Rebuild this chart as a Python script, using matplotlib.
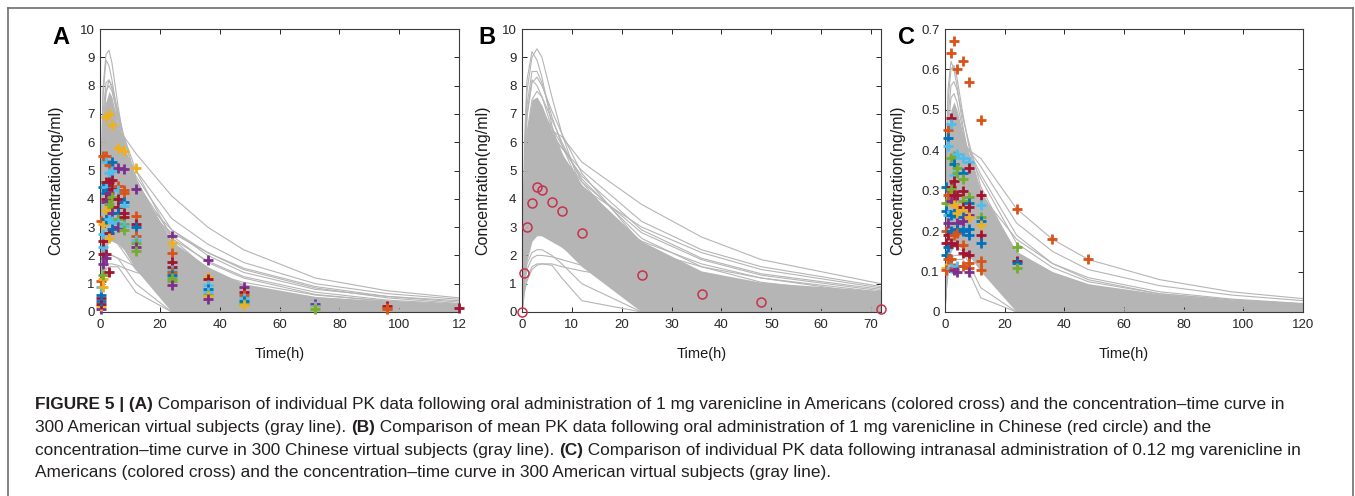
import numpy as np
import matplotlib
matplotlib.use('Agg')
from matplotlib import pyplot as plt
from matplotlib.lines import Line2D

plt.rcParams['font.family'] = ['Liberation Sans', 'DejaVu Sans']

# ---------------- data ----------------
# sampling times of the simulated curves
t_a = [0, 0.5, 1, 2, 3, 4, 6, 8, 12, 24, 36, 48, 72, 96, 120]
t_b = [0, 0.5, 1, 2, 3, 4, 6, 8, 12, 24, 36, 48, 72]
t_c = t_a

# dense core of the 300 virtual subject curves (lower / upper edge)
a_core_lo = [0, 0.9, 1.6, 2.2, 2.5, 2.5, 2.4, 2.2, 1.5, 0, 0, 0, 0, 0, 0]
a_core_hi = [0, 4.5, 6.2, 7.4, 7.8, 7.6, 6.6, 5.8, 4.6, 2.5, 1.6, 1.0, 0.55, 0.38, 0.3]
b_core_lo = [0, 1.0, 1.8, 2.5, 2.7, 2.7, 2.5, 2.3, 1.6, 0, 0, 0, 0]
b_core_hi = [0, 5.0, 6.5, 7.5, 7.6, 7.3, 6.4, 5.6, 4.5, 2.5, 1.45, 1.05, 0.75]
c_core_lo = [0, 0.06, 0.11, 0.15, 0.165, 0.165, 0.155, 0.14, 0.1, 0, 0, 0, 0, 0, 0]
c_core_hi = [0, 0.3, 0.42, 0.5, 0.52, 0.5, 0.44, 0.39, 0.3, 0.15, 0.1, 0.07, 0.045, 0.03, 0.022]

# individual virtual subject curves that stand out of the core
a_curves = [
    [0, 5.2, 7.9, 9.1, 9.25, 8.8, 7.3, 6.0, 4.1, 1.5, 0.5, 0.15, 0.02, 0, 0],
    [0, 5.0, 7.6, 8.9, 8.7, 8.2, 6.9, 5.7, 3.9, 1.4, 0.5, 0.15, 0.02, 0, 0],
    [0, 4.6, 7.0, 8.1, 8.2, 7.9, 6.8, 5.9, 4.4, 2.0, 0.85, 0.35, 0.06, 0.01, 0],
    [0, 4.3, 6.6, 7.8, 8.0, 7.8, 7.0, 6.1, 4.7, 2.3, 1.1, 0.5, 0.1, 0.02, 0],
    [0, 2.5, 4.0, 5.5, 6.0, 6.2, 6.3, 6.2, 5.6, 4.1, 3.0, 2.2, 1.2, 0.75, 0.5],
    [0, 2.8, 4.4, 5.7, 6.1, 6.2, 6.0, 5.7, 5.0, 3.3, 2.4, 1.75, 1.0, 0.65, 0.45],
    [0, 3.1, 4.7, 6.0, 6.4, 6.4, 6.1, 5.7, 4.8, 2.9, 2.0, 1.4, 0.8, 0.55, 0.4],
    [0, 3.4, 5.0, 6.4, 6.8, 6.7, 6.2, 5.6, 4.6, 2.7, 1.75, 1.2, 0.62, 0.38, 0.25],
    [0, 3.6, 5.4, 6.7, 7.0, 6.9, 6.3, 5.6, 4.3, 2.2, 1.3, 0.8, 0.35, 0.18, 0.1],
    [0, 1.0, 1.5, 1.9, 2.0, 2.0, 1.9, 1.8, 1.6, 1.2, 0.95, 0.75, 0.5, 0.35, 0.25],
    [0, 0.8, 1.2, 1.6, 1.7, 1.7, 1.65, 1.55, 1.4, 1.05, 0.8, 0.6, 0.38, 0.25, 0.16],
    [0, 0.7, 1.1, 1.5, 1.6, 1.6, 1.6, 1.3, 0.7, 0, 0, 0, 0, 0, 0],
    [0, 1.0, 1.5, 1.9, 2.0, 2.0, 1.9, 1.6, 1.0, 0, 0, 0, 0, 0, 0],
    [0, 1.3, 2.0, 2.5, 2.6, 2.6, 2.4, 2.1, 1.5, 0.3, 0.05, 0, 0, 0, 0],
    [0, 1.5, 2.3, 2.8, 2.9, 2.9, 2.7, 2.5, 2.1, 1.2, 0.7, 0.45, 0.18, 0.07, 0.03],
    [0, 2.0, 3.1, 3.9, 4.1, 4.0, 3.7, 3.4, 2.9, 1.7, 1.0, 0.6, 0.22, 0.08, 0.03],
    [0, 2.4, 3.7, 4.7, 5.0, 5.0, 4.7, 4.3, 3.6, 2.2, 1.4, 0.9, 0.4, 0.18, 0.08],
    [0, 3.9, 5.9, 7.2, 7.5, 7.3, 6.6, 5.9, 4.6, 2.1, 1.0, 0.45, 0.1, 0.02, 0],
    [0, 4.1, 6.2, 7.7, 8.2, 8.0, 7.1, 6.2, 4.7, 2.4, 1.3, 0.7, 0.2, 0.06, 0.02],
    [0, 1.8, 2.7, 3.4, 3.5, 3.5, 3.3, 3.1, 2.7, 1.9, 1.4, 1.05, 0.6, 0.38, 0.25],
    [0, 2.2, 3.4, 4.4, 4.7, 4.7, 4.5, 4.3, 3.8, 2.8, 2.1, 1.55, 0.9, 0.55, 0.35],
    [0, 3.0, 4.5, 5.8, 6.2, 6.2, 5.8, 5.3, 4.4, 2.6, 1.8, 1.25, 0.7, 0.42, 0.28],
    [0, 2.6, 4.0, 5.2, 5.6, 5.6, 5.3, 5.0, 4.2, 2.9, 2.1, 1.5, 0.85, 0.5, 0.3],
    [0, 4.0, 6.0, 7.3, 7.6, 7.4, 6.8, 6.2, 5.0, 2.6, 1.5, 0.9, 0.35, 0.12, 0.05],
]
b_curves = [
    [0, 6.0, 8.2, 9.2, 8.9, 8.3, 6.6, 5.3, 3.6, 1.3, 0.5, 0.2, 0.05],
    [0, 5.2, 7.8, 9.0, 9.3, 9.0, 7.6, 6.3, 4.3, 1.7, 0.7, 0.3, 0.06],
    [0, 5.0, 7.3, 8.5, 8.5, 8.1, 6.9, 5.9, 4.3, 1.9, 0.9, 0.45, 0.1],
    [0, 4.6, 6.9, 8.1, 8.3, 8.0, 7.1, 6.3, 4.9, 2.4, 1.2, 0.6, 0.15],
    [0, 2.7, 4.2, 5.6, 6.1, 6.3, 6.4, 6.2, 5.3, 3.8, 2.65, 1.85, 1.0],
    [0, 3.0, 4.6, 5.9, 6.3, 6.3, 6.1, 5.8, 5.0, 3.2, 2.2, 1.6, 0.9],
    [0, 3.4, 5.1, 6.4, 6.8, 6.7, 6.3, 5.8, 4.8, 2.9, 1.9, 1.35, 0.8],
    [0, 3.8, 5.6, 6.9, 7.2, 7.1, 6.5, 5.9, 4.7, 2.6, 1.6, 1.05, 0.55],
    [0, 1.0, 1.5, 1.9, 2.0, 2.0, 1.95, 1.85, 1.65, 1.2, 0.95, 0.8, 0.55],
    [0, 0.8, 1.2, 1.6, 1.7, 1.7, 1.7, 1.6, 1.45, 1.1, 0.9, 0.7, 0.45],
    [0, 0.7, 1.1, 1.5, 1.65, 1.7, 1.65, 1.2, 0.4, 0, 0, 0, 0],
    [0, 1.1, 1.7, 2.1, 2.2, 2.2, 2.0, 1.7, 1.0, 0, 0, 0, 0],
    [0, 1.4, 2.1, 2.6, 2.7, 2.7, 2.5, 2.3, 1.8, 0.6, 0.2, 0.05, 0],
    [0, 1.6, 2.4, 3.0, 3.1, 3.1, 2.9, 2.7, 2.3, 1.4, 0.9, 0.6, 0.3],
    [0, 2.1, 3.2, 4.0, 4.2, 4.1, 3.8, 3.5, 3.0, 1.9, 1.2, 0.8, 0.35],
    [0, 2.5, 3.8, 4.8, 5.1, 5.1, 4.8, 4.5, 3.8, 2.5, 1.7, 1.2, 0.6],
    [0, 4.3, 6.3, 7.5, 7.8, 7.6, 6.8, 6.0, 4.6, 2.1, 1.0, 0.5, 0.1],
    [0, 4.8, 7.0, 8.2, 8.0, 7.6, 6.5, 5.6, 4.0, 1.6, 0.7, 0.3, 0.05],
    [0, 2.0, 3.0, 3.6, 3.7, 3.7, 3.5, 3.3, 3.0, 2.2, 1.6, 1.2, 0.7],
    [0, 3.1, 4.7, 6.0, 6.4, 6.4, 6.0, 5.5, 4.6, 2.8, 1.85, 1.3, 0.75],
    [0, 2.7, 4.1, 5.3, 5.7, 5.7, 5.4, 5.1, 4.4, 3.0, 2.1, 1.5, 0.85],
]
c_curves = [
    [0, 0.38, 0.55, 0.62, 0.6, 0.56, 0.46, 0.38, 0.26, 0.09, 0.03, 0.01, 0, 0, 0],
    [0, 0.36, 0.52, 0.6, 0.61, 0.58, 0.49, 0.41, 0.29, 0.11, 0.04, 0.015, 0, 0, 0],
    [0, 0.33, 0.48, 0.56, 0.57, 0.55, 0.48, 0.42, 0.31, 0.14, 0.06, 0.025, 0.005, 0, 0],
    [0, 0.2, 0.3, 0.38, 0.4, 0.41, 0.41, 0.4, 0.38, 0.255, 0.18, 0.13, 0.08, 0.05, 0.033],
    [0, 0.22, 0.33, 0.41, 0.43, 0.43, 0.42, 0.4, 0.36, 0.22, 0.15, 0.105, 0.065, 0.042, 0.028],
    [0, 0.25, 0.36, 0.44, 0.46, 0.46, 0.43, 0.4, 0.34, 0.19, 0.12, 0.08, 0.045, 0.03, 0.02],
    [0, 0.06, 0.09, 0.12, 0.13, 0.13, 0.13, 0.1, 0.035, 0, 0, 0, 0, 0, 0],
    [0, 0.08, 0.12, 0.15, 0.16, 0.16, 0.15, 0.12, 0.06, 0, 0, 0, 0, 0, 0],
    [0, 0.07, 0.1, 0.13, 0.14, 0.14, 0.14, 0.135, 0.125, 0.09, 0.065, 0.048, 0.03, 0.02, 0.013],
    [0, 0.09, 0.13, 0.16, 0.17, 0.17, 0.165, 0.16, 0.14, 0.1, 0.075, 0.057, 0.035, 0.024, 0.016],
    [0, 0.12, 0.18, 0.22, 0.23, 0.23, 0.22, 0.2, 0.17, 0.1, 0.06, 0.04, 0.02, 0.01, 0.005],
    [0, 0.15, 0.22, 0.28, 0.3, 0.3, 0.28, 0.26, 0.22, 0.13, 0.085, 0.06, 0.035, 0.022, 0.014],
    [0, 0.28, 0.4, 0.48, 0.5, 0.49, 0.44, 0.39, 0.3, 0.13, 0.06, 0.03, 0.007, 0, 0],
    [0, 0.3, 0.44, 0.53, 0.54, 0.52, 0.45, 0.38, 0.27, 0.1, 0.04, 0.015, 0, 0, 0],
    [0, 0.18, 0.27, 0.34, 0.36, 0.36, 0.35, 0.33, 0.29, 0.18, 0.12, 0.085, 0.05, 0.032, 0.021],
    [0, 0.23, 0.34, 0.42, 0.44, 0.44, 0.42, 0.39, 0.33, 0.17, 0.11, 0.075, 0.045, 0.03, 0.02],
]

# observed individual data (colored crosses), per sampling time
# colour codes: b blue, o orange, y yellow, p purple, g green, c cyan, r dark red
a_obs_t = [0.5, 1, 2, 3, 4, 6, 8, 12, 24, 36, 48, 72, 96, 120]
a_obs_c = [
    [0.1, 0.2, 0.3, 0.4, 0.5, 0.6, 0.9, 1.1, 3.2],
    [0.9, 1.15, 1.3, 1.7, 2.05, 2.3, 2.5, 2.75, 3.1, 4.4, 5.5],
    [6.9, 5.5, 5.3, 4.6, 4.4, 4.2, 4.0, 3.9, 3.6, 3.3, 2.05, 1.9],
    [7.0, 5.2, 4.9, 4.6, 4.2, 3.8, 3.5, 3.3, 2.8, 2.6, 1.4],
    [6.6, 5.3, 5.0, 4.65, 4.35, 4.05, 3.7, 3.5, 3.2, 2.95],
    [5.8, 5.1, 4.45, 4.3, 4.0, 3.7, 3.5, 3.3, 3.15, 3.0],
    [5.7, 5.05, 4.3, 4.2, 3.9, 3.75, 3.5, 3.35, 3.1, 3.05, 2.9],
    [5.1, 4.35, 3.4, 3.1, 3.0, 2.7, 2.55, 2.45, 2.3, 2.15],
    [2.7, 2.45, 2.1, 1.75, 1.6, 1.5, 1.4, 1.3, 1.2, 1.1, 0.95],
    [1.85, 1.25, 1.15, 0.95, 0.8, 0.7, 0.6, 0.55, 0.45],
    [0.9, 0.7, 0.6, 0.5, 0.4, 0.3, 0.25],
    [0.3, 0.2, 0.15, 0.1],
    [0.2, 0.15, 0.1],
    [0.15],
]
a_obs_k = ['pyrbrbcoo', 'yygprcrcybo', 'yocrcbrpybrp', 'yocrpgycryr', 'ybcrrggpcb',
           'ypocrrbgcp', 'ypoobcrrgcg', 'yporbocgpg', 'pyorrcobggp', 'pyrcbcgyp',
           'procbgy', 'pcyg', 'roo', 'r']

c_obs_t = [0.5, 1, 2, 3, 4, 6, 8, 12, 24, 36, 48]
c_obs_c = [
    [0.31, 0.27, 0.25, 0.2, 0.17, 0.14, 0.11, 0.105],
    [0.45, 0.43, 0.41, 0.29, 0.24, 0.22, 0.19, 0.16, 0.13],
    [0.64, 0.48, 0.465, 0.38, 0.31, 0.305, 0.275, 0.24, 0.2, 0.17, 0.13, 0.11],
    [0.67, 0.385, 0.365, 0.34, 0.325, 0.29, 0.265, 0.245, 0.19, 0.11, 0.105],
    [0.6, 0.39, 0.355, 0.345, 0.29, 0.26, 0.245, 0.22, 0.205, 0.195, 0.165, 0.115, 0.1],
    [0.62, 0.38, 0.345, 0.33, 0.3, 0.275, 0.26, 0.25, 0.235, 0.225, 0.2, 0.165, 0.145, 0.115],
    [0.57, 0.37, 0.355, 0.285, 0.27, 0.26, 0.24, 0.235, 0.205, 0.19, 0.14, 0.12, 0.11, 0.1],
    [0.475, 0.29, 0.265, 0.235, 0.225, 0.215, 0.19, 0.17, 0.125, 0.105],
    [0.255, 0.16, 0.125, 0.12, 0.11],
    [0.18],
    [0.13],
]
c_obs_k = ['bgborbyo', 'obcocprbo', 'orcgrgpbbroc', 'ogbcrryboop', 'ocggryypborcp',
           'ocbgrgrybpboro', 'ocrgbrpybbroop', 'orcgbyrboo', 'ogrbg', 'o', 'o']

# observed mean data in Chinese subjects (red circles)
b_obs_t = [0, 0.5, 1, 2, 3, 4, 6, 8, 12, 24, 36, 48, 72]
b_obs_c = [0.0, 1.38, 2.99, 3.85, 4.43, 4.32, 3.88, 3.57, 2.79, 1.31, 0.64, 0.37, 0.11]

palette = {'b': '#0072BD', 'o': '#D95319', 'y': '#EDB120', 'p': '#7E2F8E',
           'g': '#77AC30', 'c': '#4DBEEE', 'r': '#A2142F'}
gray = '#b5b5b5'

# ---------------- figure ----------------
W, H = 1355, 496
fig = plt.figure(figsize=(W / 100, H / 100), dpi=100)


def px_axes(left, top, right, bottom):
    return fig.add_axes([left / W, 1 - bottom / H, (right - left) / W, (bottom - top) / H])


def style(ax, xt, xl, yt, yl, xlim, ylim, ylab_x):
    ax.set_xlim(*xlim)
    ax.set_ylim(*ylim)
    ax.set_xticks(xt)
    ax.set_xticklabels(xl)
    ax.set_yticks(yt)
    ax.set_yticklabels(yl)
    ax.tick_params(direction='in', top=True, right=True, length=3.5, width=0.7,
                   labelsize=9.5, labelcolor='#262626', color='#262626', pad=4)
    ax.tick_params(axis='x', pad=5)
    for s in ax.spines.values():
        s.set_color('#3a3a3a')
        s.set_linewidth(0.8)
    ax.set_xlabel('Time(h)', fontsize=10.5, color='#1a1a1a')
    ax.xaxis.set_label_coords(0.5, -0.125)
    ax.set_ylabel('Concentration(ng/ml)', fontsize=11.5, color='#1a1a1a')
    ax.yaxis.set_label_coords(ylab_x, 0.465)


def draw_sim(ax, t, lo, hi, curves):
    ax.fill_between(t, lo, hi, color=gray, lw=0, zorder=1)
    for c in curves:
        ax.plot(t, c, color=gray, lw=0.8, zorder=2)


def draw_cross(ax, ts, cs, ks):
    for t, vals, keys in zip(ts, cs, ks):
        for v, k in zip(vals, keys):
            ax.plot(t, v, '+', color=palette[k], ms=7.5, mew=2.0, zorder=5, clip_on=False)


ax_a = px_axes(100, 29, 459, 312)
draw_sim(ax_a, t_a, a_core_lo, a_core_hi, a_curves)
draw_cross(ax_a, a_obs_t, a_obs_c, a_obs_k)
style(ax_a, range(0, 121, 20), ['0', '20', '40', '60', '80', '100', '12'],
      range(0, 11), [str(i) for i in range(11)], (0, 120), (0, 10), -0.103)

ax_b = px_axes(522, 29, 881, 312)
draw_sim(ax_b, t_b, b_core_lo, b_core_hi, b_curves)
ax_b.plot(b_obs_t, b_obs_c, 'o', ls='none', mfc='none', mec='#c8314c', ms=6.5, mew=1.1,
          zorder=5, clip_on=False)
style(ax_b, range(0, 71, 10), [str(i) for i in range(0, 71, 10)],
      range(0, 11), [str(i) for i in range(11)], (0, 72), (0, 10), -0.089)

ax_c = px_axes(945, 29, 1303, 312)
draw_sim(ax_c, t_c, c_core_lo, c_core_hi, c_curves)
draw_cross(ax_c, c_obs_t, c_obs_c, c_obs_k)
c_yt = [i / 10 for i in range(8)]
style(ax_c, range(0, 121, 20), [str(i) for i in range(0, 121, 20)],
      c_yt, ['0'] + ['%.1f' % v for v in c_yt[1:]], (0, 120), (0, 0.7), -0.112)

# panel letters
for x, letter in [(61, 'A'), (487, 'B'), (906, 'C')]:
    fig.text(x / W, 1 - 38 / H, letter, fontsize=17, fontweight='bold',
             ha='center', va='center', color='black')

# outer frame (top, left, right)
fc = '#6e6e6e'
fig.add_artist(Line2D([8 / W, 1353 / W], [1 - 8 / H, 1 - 8 / H], color=fc, lw=1.2))
fig.add_artist(Line2D([8 / W, 8 / W], [0, 1 - 8 / H], color=fc, lw=1.2))
fig.add_artist(Line2D([1353 / W, 1353 / W], [0, 1 - 8 / H], color=fc, lw=1.2))

# caption
caption = [
    [('FIGURE 5 | (A)', 'bold'), (' Comparison of individual PK data following oral administration of 1 mg '
                                  'varenicline in Americans (colored cross) and the concentration\u2013time curve in', 'normal')],
    [('300 American virtual subjects (gray line). ', 'normal'), ('(B)', 'bold'),
     (' Comparison of mean PK data following oral administration of 1 mg varenicline in Chinese (red circle) and the', 'normal')],
    [('concentration\u2013time curve in 300 Chinese virtual subjects (gray line). ', 'normal'), ('(C)', 'bold'),
     (' Comparison of individual PK data following intranasal administration of 0.12 mg varenicline in', 'normal')],
    [('Americans (colored cross) and the concentration\u2013time curve in 300 American virtual subjects (gray line).', 'normal')],
]
cap_y = [405, 427.5, 450, 472.5]
renderer = fig.canvas.get_renderer()
for line, y in zip(caption, cap_y):
    x = 35
    for s, w in line:
        txt = fig.text(x / W, 1 - y / H, s, fontsize=12.4, fontweight=w,
                       color='#231f20', ha='left', va='center')
        bb = txt.get_window_extent(renderer)
        x = bb.x1

fig.savefig('out.png', dpi=100)
